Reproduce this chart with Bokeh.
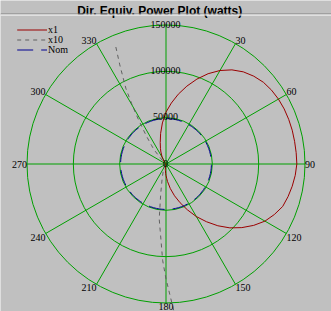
import numpy as np
from bokeh.plotting import figure
from bokeh.models import Range1d
from bokeh.core.properties import value
from bokeh.embed import file_html
from bokeh.resources import INLINE

# ---------------- data ----------------
title_text = "Dir. Equiv. Power Plot (watts)"

x1_deg = [0, 5, 10, 15, 20, 25, 30, 35, 40, 45, 50, 55, 60, 65, 70, 75, 80, 85,
          90, 95, 100, 105, 110, 115, 120, 125, 130, 135, 140, 145, 150, 155,
          160, 165, 170, 175, 177, 180, 182, 185, 187, 190, 195, 200, 210, 220,
          230, 240, 250, 260, 270, 280, 290, 300, 310, 315, 320, 322, 325, 328,
          330, 332, 335, 337, 340, 345, 350, 355]
x1_watts = [56000, 66000, 76500, 87000, 97500, 107500, 116500, 124000, 129800,
            134000, 137200, 139000, 140100, 140700, 140900, 141000, 140900,
            141000, 141200, 140000, 138300, 136300, 134000, 129000, 123300,
            115500, 106800, 97500, 87000, 76000, 65500, 54500, 44500, 35500,
            27000, 19000, 15800, 12400, 10400, 7200, 6000, 3300, 1600, 900,
            500, 300, 200, 200, 200, 200, 200, 200, 200, 250, 300, 600, 2000,
            2500, 3700, 5500, 7200, 9200, 11800, 14000, 17500, 24000, 33500,
            44500]

x10_deg = [177, 180, 182, 185, 187, 190, 195, 200, 210, 220, 230, 240, 250, 260,
           270, 280, 290, 300, 310, 315, 320, 322, 325, 328, 330, 332, 335, 337]
x10_watts = [158000, 124000, 104000, 72000, 60000, 33000, 16000, 9000, 5000,
             3000, 2000, 2000, 2000, 2000, 2000, 2000, 2000, 2500, 3000, 6000,
             20000, 25000, 37000, 55000, 72000, 92000, 118000, 140000]

nom_watts = 49000

ring_watts = [0, 50000, 100000, 150000]
ring_labels = ["0", "50000", "100000", "150000"]
spoke_deg = [0, 30, 60, 90, 120, 150, 180, 210, 240, 270, 300, 330]
spoke_labels = ["0", "30", "60", "90", "120", "150", "180", "210", "240",
                "270", "300", "330"]
legend_labels = ["x1", "x10", "Nom"]

# ---------------- styles ----------------
BG = "#C0C0C0"
GRID = "#00A000"
RED = "#9A0000"
GRAY = "#606060"
BLUE = "#000090"
SERIF = value("Liberation Serif")

W, H = 331, 311
CX, CY = 165.5, 163.5          # pixel centre of the polar plot
S = 150000 / 139.0             # watts per pixel


def dx(px):
    return (px - CX) * S


def dy(py):
    return (CY - py) * S


def polar(deg, r):
    t = np.radians(np.asarray(deg, dtype=float))
    r = np.asarray(r, dtype=float)
    return r * np.sin(t), r * np.cos(t)


p = figure(width=W, height=H, output_backend="svg", toolbar_location=None,
           x_axis_location=None, y_axis_location=None, min_border=0,
           x_range=Range1d(dx(0), dx(W)), y_range=Range1d(dy(H), dy(0)),
           match_aspect=False)
p.grid.visible = False
p.background_fill_color = BG
p.border_fill_color = BG
p.outline_line_color = None

# rings
for rw in ring_watts[1:]:
    p.circle(x=[0], y=[0], radius=rw, fill_color=None, line_color=GRID,
             line_width=1)

# spokes
rmax = ring_watts[-1]
sx, sy = polar(spoke_deg, [rmax] * len(spoke_deg))
p.segment(x0=[0] * len(spoke_deg), y0=[0] * len(spoke_deg), x1=sx, y1=sy,
          line_color=GRID, line_width=1)

# series
xx, yy = polar(x1_deg + [x1_deg[0]], x1_watts + [x1_watts[0]])
p.line(xx, yy, line_color=RED, line_width=1)

gx, gy = polar(x10_deg, x10_watts)
p.line(gx, gy, line_color=GRAY, line_width=1, line_dash="4 4")

nd = np.arange(0, 361, 2)
bx, by = polar(nd, [nom_watts] * len(nd))
p.line(bx, by, line_color=BLUE, line_width=1, line_dash="16 8")

# ring labels
for rw, lab in zip(ring_watts, ring_labels):
    p.text(x=[dx(CX - 0.5)], y=[rw + 0.7 * S], text=[lab], text_font=SERIF,
           text_font_size="10px", text_align="center",
           text_baseline="alphabetic", text_color="black")

# spoke labels
for d, lab in zip(spoke_deg, spoke_labels):
    if d == 0:
        continue
    px_, py_ = polar([d], [rmax])
    sn, cs = np.sin(np.radians(d)), np.cos(np.radians(d))
    align = "left" if sn > 0.01 else ("right" if sn < -0.01 else "center")
    if cs > 0.01:
        base = "bottom"
    elif cs < -0.01:
        base = "top"
    else:
        base = "alphabetic"
    p.text(x=list(px_), y=list(py_), text=[lab], text_font=SERIF,
           text_font_size="10px", text_align=align, text_baseline=base,
           text_color="black")

# title + etched separator
p.text(x=[dx(159.2)], y=[dy(10.7)], text=[title_text],
       text_font=value("Liberation Sans"), text_font_style="bold",
       text_font_size="12px", text_align="center", text_baseline="alphabetic",
       text_color="black")
p.line([dx(0), dx(W)], [dy(13.5), dy(13.5)], line_color="#808080", line_width=1)
p.line([dx(0), dx(W)], [dy(14.5), dy(14.5)], line_color="#FFFFFF", line_width=1)

# legend
leg_styles = [(RED, None), (GRAY, "4 4"), (BLUE, "16 8")]
leg_rows = [29.5, 39.5, 49.5]
for (col, dash), row, lab in zip(leg_styles, leg_rows, legend_labels):
    kw = dict(line_color=col, line_width=1)
    if dash:
        kw["line_dash"] = dash
    p.line([dx(16.7), dx(46.5)], [dy(row), dy(row)], **kw)
    p.text(x=[dx(47.5)], y=[dy(row - 0.5)], text=[lab], text_font=SERIF,
           text_font_size="10px", text_align="left", text_baseline="alphabetic",
           text_color="black")

open("out.html", "w").write(file_html(p, INLINE))
